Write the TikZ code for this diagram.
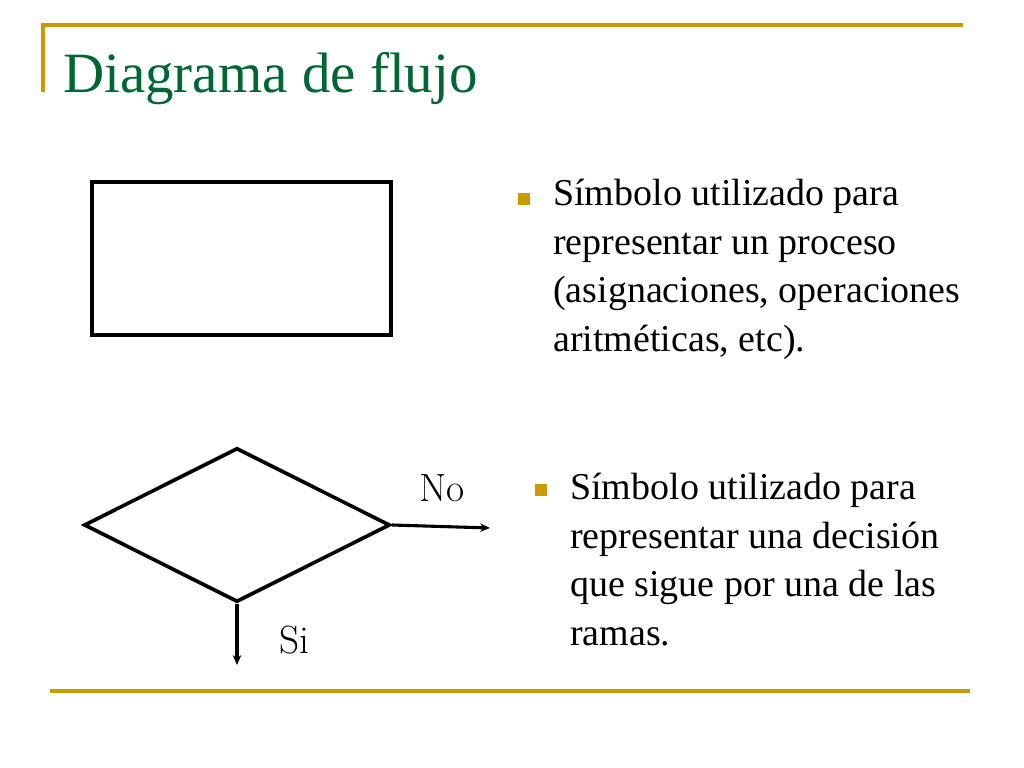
\documentclass[tikz,border=0pt]{standalone}
\usepackage{fontspec}
\setmainfont{Liberation Serif}
\newfontfamily\lmfont{Latin Modern Roman}
\usetikzlibrary{arrows.meta,shapes.geometric}
\definecolor{rulegold}{RGB}{204,153,0}
\definecolor{titlegreen}{RGB}{0,102,51}
\tikzset{
    >={Stealth[length=7pt,width=6pt]},
    rulestyle/.style={draw=rulegold,line width=2.2pt},
    proc/.style={rectangle,draw,line width=2.6pt,minimum width=7.475cm,minimum height=3.825cm},
    decision/.style={diamond,draw,line width=2.6pt,minimum width=7.65cm,minimum height=3.85cm,inner sep=0pt},
    flow/.style={->,line width=2.2pt},
    bullet/.style={rectangle,fill=rulegold,minimum size=0.3cm,inner sep=0pt},
    bodytext/.style={anchor=base west,align=left,inner sep=0pt,font=\fontsize{27}{34.5}\selectfont},
    branch/.style={inner sep=0pt,font=\lmfont\fontsize{28}{32}\selectfont}
}

\begin{document}
\begin{tikzpicture}[x=0.025cm,y=0.025cm]
  \useasboundingbox (0,0) rectangle (1024,768);

  % frame lines
  \coordinate (tl) at (43,743);
  \coordinate (tr) at (963,743);
  \coordinate (lb) at (43,676);
  \coordinate (bl) at (50,77);
  \coordinate (br) at (970,77);
  \draw[rulestyle] (lb) -- (tl) -- (tr);
  \draw[rulestyle] (bl) -- (br);

  \node[anchor=base west,inner sep=0pt,text=titlegreen,font=\fontsize{40.5}{48}\selectfont]
    (title) at (63,675) {Diagrama de flujo};

  % symbols
  \node[proc] (proc) at (241.5,509.5) {};
  \node[decision] (dec) at (237,243) {};
  \coordinate (noend) at (490,240);
  \coordinate (siend) at (237,103);
  \draw[flow] (dec.east) -- (noend);
  \draw[flow] (dec.south) -- (siend);
  \node[branch] (no) at (442,280) {N\kern0pt o};
  \node[branch] (si) at (294,128) {Si};

  % descriptions
  \node[bullet] (b1) at (524,569) {};
  \node[bodytext] (t1) at (553,416.5) {S\'imbolo utilizado para\\representar un proceso\\(asignaciones, operaciones\\aritm\'eticas, etc).};
  \node[bullet] (b2) at (541,278) {};
  \node[bodytext] (t2) at (570,122.5) {S\'imbolo utilizado para\\representar una decisi\'on\\que sigue por una de las\\ramas.};
\end{tikzpicture}
\end{document}
